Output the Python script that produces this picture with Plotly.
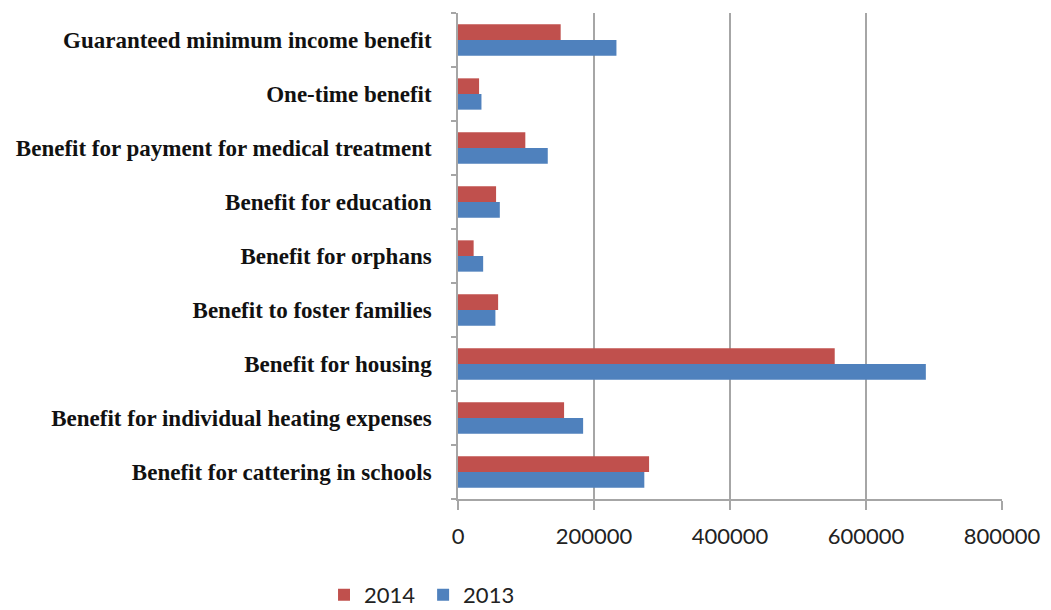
import plotly.graph_objects as go

categories = [
    "Guaranteed minimum income benefit",
    "One-time benefit",
    "Benefit for payment for medical treatment",
    "Benefit for education",
    "Benefit for orphans",
    "Benefit to foster families",
    "Benefit for housing",
    "Benefit for individual heating expenses",
    "Benefit for cattering in schools",
]
values_2014 = [151000, 31000, 99000, 56000, 23000, 59000, 554000, 156000, 281000]
values_2013 = [233000, 34500, 132000, 61500, 37000, 55000, 688000, 184000, 274000]
x_ticks = [0, 200000, 400000, 600000, 800000]
x_tick_labels = ["0", "200000", "400000", "600000", "800000"]

RED = "#C0504D"
BLUE = "#4F81BD"

fig = go.Figure()
fig.add_trace(go.Bar(y=categories, x=values_2013, orientation="h", name="2013",
                     marker=dict(color=BLUE, line=dict(width=0)), legend="legend2"))
fig.add_trace(go.Bar(y=categories, x=values_2014, orientation="h", name="2014",
                     marker=dict(color=RED, line=dict(width=0)), legend="legend"))

legend_font = dict(family="Lato", size=22, color="#222222")

# page body has an 8px default margin, so the figure is 8px smaller
fig.update_layout(
    width=1043, height=602,
    margin=dict(l=450, r=49, t=5, b=111),
    paper_bgcolor="white", plot_bgcolor="white",
    barmode="group", bargap=0.42, bargroupgap=0,
    showlegend=True,
    legend=dict(orientation="h", xref="container", yref="container",
                x=0.303, y=0.025, xanchor="left", yanchor="middle",
                font=legend_font, itemwidth=30, bgcolor="rgba(0,0,0,0)"),
    legend2=dict(orientation="h", xref="container", yref="container",
                 x=0.398, y=0.025, xanchor="left", yanchor="middle",
                 font=legend_font, itemwidth=30, bgcolor="rgba(0,0,0,0)"),
    xaxis=dict(range=[0, 800000], tickvals=x_ticks, ticktext=x_tick_labels,
               showgrid=True, gridcolor="#A6A6A6", gridwidth=1.5,
               showline=True, linecolor="#A6A6A6", linewidth=1.5,
               ticks="outside", ticklen=9, tickcolor="#A6A6A6", tickwidth=1.5,
               zeroline=False, ticklabelstandoff=8,
               tickfont=dict(family="Lato", size=22, color="#222222")),
    yaxis=dict(categoryorder="array", categoryarray=categories[::-1],
               showline=True, linecolor="#A6A6A6", linewidth=1.5,
               ticks="outside", tickson="boundaries", ticklen=5,
               tickcolor="#A6A6A6", tickwidth=1.5,
               ticklabelstandoff=20, showgrid=False,
               tickfont=dict(family="Liberation Serif", size=23, color="#111111",
                             weight="bold")),
)

fig.write_html("out.html")
